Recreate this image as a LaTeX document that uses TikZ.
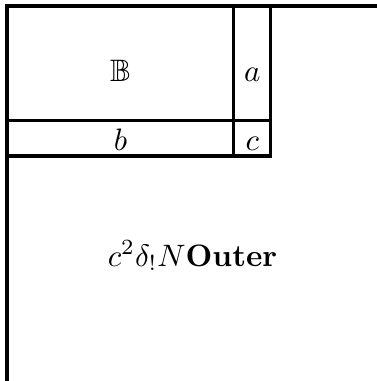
\documentclass[tikz,border=0pt]{standalone}
\usepackage{amsmath,amssymb}
\usepackage{tikz}
\usetikzlibrary{positioning}
\tikzset{
  cell/.style={draw, line width=1pt, inner sep=0pt, outer sep=0pt,
    anchor=north west, align=center},
  toprow/.style={cell, text height=24.5pt, text depth=12.3pt},
  botrow/.style={cell, text height=9.7pt, text depth=1.9pt},
  widecol/.style={minimum width=73.2pt},
  narrowcol/.style={minimum width=11.9pt},
  % right and bottom edges lie off the page
  outerbox/.style={cell, minimum width=139.7pt, text height=83.9pt,
    text depth=64.5pt},
}
\begin{document}
\begin{tikzpicture}

\useasboundingbox (0,0) rectangle (4.274,-4.320);
\clip (0,0) rectangle (4.274,-4.320);

% ---------- outer box ----------
\node[outerbox] (outer) at (0.079,-0.068) {$c^2\delta_{!}N$\textbf{Outer}\hspace*{20pt}};

% ---------- inner table ----------
\node[toprow, widecol]    (B) at (outer.north west) {$\mathbb{B}$};
\node[toprow, narrowcol]  (a) at (B.north east) {$a$};
\node[botrow, widecol]    (b) at (B.south west) {$b$};
\node[botrow, narrowcol]  (c) at (b.north east) {$c$};

\end{tikzpicture}
\end{document}
